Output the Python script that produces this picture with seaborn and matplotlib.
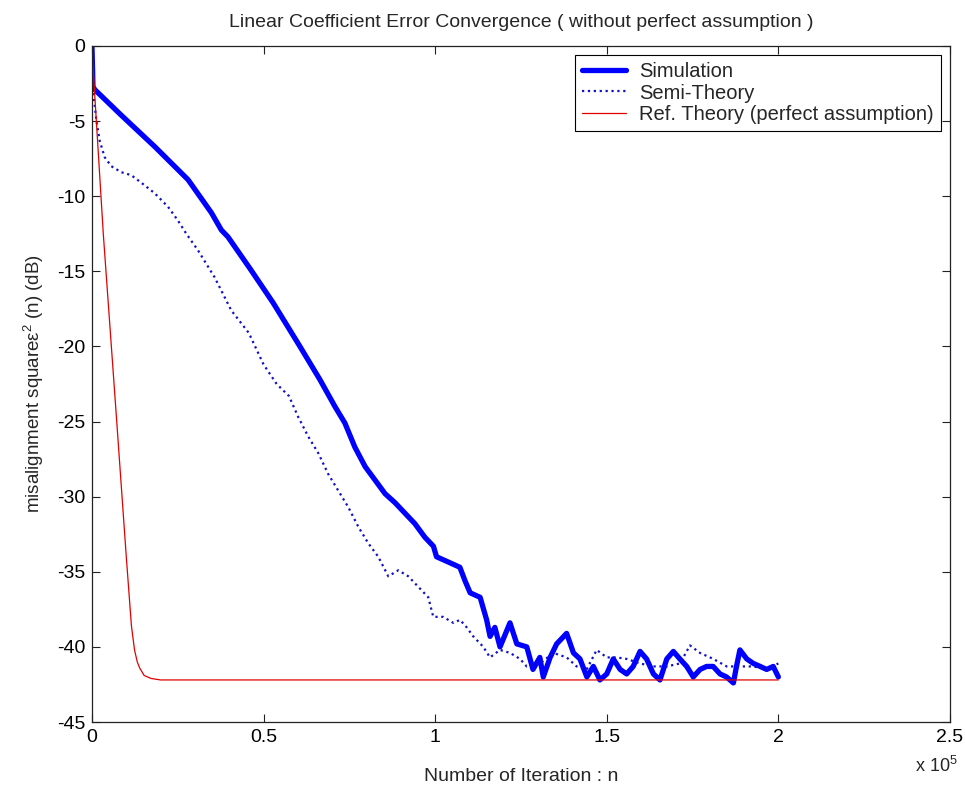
import numpy as np
import pandas as pd
import matplotlib
matplotlib.use("Agg")
import matplotlib.pyplot as plt
import seaborn as sns
from matplotlib.ticker import FuncFormatter, FixedLocator

# ---------------- data ----------------
sim_n = [0, 300, 800, 8500, 18300, 28000, 34800, 37700, 39600, 46000, 52800,
         60600, 66400, 70800, 73700, 76600, 79600, 82500, 85400, 88300, 91200,
         94100, 97000, 99500, 100400, 104300, 107200, 108700, 110200, 113100,
         115000, 116000, 117400, 118900, 121800, 123800, 126700, 128500, 130500,
         131500, 133500, 135400, 138300, 140300, 142200, 144200, 146100, 148000,
         150000, 151900, 153900, 155800, 157700, 159700, 161600, 163600, 165500,
         167500, 169400, 171300, 173300, 175200, 177200, 179100, 181000, 183000,
         184900, 186900, 187800, 188800, 190800, 192700, 194700, 196600, 198500,
         200000]
sim_db = [0, -2.7, -2.9, -4.6, -6.7, -8.9, -11.1, -12.25, -12.7, -14.8, -17.1,
          -20.0, -22.2, -24.0, -25.1, -26.7, -28.0, -28.9, -29.8, -30.4, -31.1,
          -31.8, -32.7, -33.3, -34.0, -34.4, -34.7, -35.6, -36.4, -36.7,
          -38.2, -39.3, -38.7, -40.0, -38.4, -39.8, -40.0, -41.5, -40.7,
          -42.0, -40.7, -39.8, -39.1, -40.4, -40.8, -42.0, -41.3, -42.2,
          -41.8, -40.8, -41.5, -41.8, -41.3, -40.3, -40.8, -41.8, -42.2,
          -40.8, -40.3, -40.8, -41.3, -42.0, -41.5, -41.3, -41.3, -41.8,
          -42.0, -42.4, -41.3, -40.2, -40.8, -41.1, -41.3, -41.5, -41.3,
          -42.0]

semi_n = [0, 300, 1250, 2240, 3700, 5620, 8540, 11450, 14370, 18270, 22150,
          25000, 27500, 30890, 35750, 40590, 45700, 50000, 53820, 57400, 60110,
          63030, 65940, 68860, 71770, 74690, 77600, 80510, 83430, 86340, 89260,
          92170, 95080, 98000, 99450, 102370, 105280, 107240, 109190, 111110,
          114030, 115980, 118890, 121810, 124720, 126670, 130550, 134420,
          138330, 141240, 144150, 147070, 149980, 152900, 155810, 159690,
          163560, 167470, 171340, 174250, 177170, 181040, 184950, 188830,
          192700, 196610, 200000]
semi_db = [0, -2.9, -4.9, -6.3, -7.4, -8.0, -8.4, -8.6, -9.1, -9.8, -10.7,
           -11.6, -12.5, -13.6, -15.4, -17.6, -19.1, -21.2, -22.5, -23.3, -24.7,
           -26.0, -27.1, -28.5, -29.6, -30.7, -32.0, -33.1, -34.0, -35.3, -34.9,
           -35.3, -36.0, -36.7, -38.0, -38.0, -38.4, -38.2, -38.7, -39.3,
           -40.0, -40.7, -40.2, -40.4, -40.8, -41.3, -41.1, -40.4,
           -40.7, -41.3, -41.5, -40.2, -40.7, -40.7, -40.8, -41.1,
           -41.3, -41.3, -41.1, -39.9, -40.4, -40.8, -41.3, -41.3,
           -41.3, -41.5, -41.1]

ref_n = [0, 200, 1250, 3300, 7000, 10000, 11500, 12400, 13200, 13900, 15200,
         17200, 20000, 200000]
ref_db = [0, -1.0, -4.9, -12.5, -24.3, -34.0, -38.6, -40.2, -41.0, -41.4,
          -41.9, -42.1, -42.2, -42.2]

labels = ["Simulation", "Semi-Theory", "Ref. Theory (perfect assumption)"]
x_ticks = [0, 50000, 100000, 150000, 200000, 250000]
y_ticks = [0, -5, -10, -15, -20, -25, -30, -35, -40, -45]

# ---------------- style ----------------
sns.set_style("ticks")
plt.rcParams["font.family"] = ["Liberation Sans", "DejaVu Sans"]
plt.rcParams["mathtext.fontset"] = "custom"
plt.rcParams["mathtext.rm"] = "Liberation Sans"
plt.rcParams["mathtext.it"] = "Liberation Sans"

fig = plt.figure(figsize=(9.65, 7.89), dpi=100)
ax = fig.add_axes([0.0953, 0.0849, 0.8891, 0.8568])

df_sim = pd.DataFrame({"n": sim_n, "db": sim_db})
df_semi = pd.DataFrame({"n": semi_n, "db": semi_db})
df_ref = pd.DataFrame({"n": ref_n, "db": ref_db})

sns.lineplot(data=df_sim, x="n", y="db", ax=ax, color="#0000ff", lw=3.8,
             label=labels[0], sort=False, estimator=None)
sns.lineplot(data=df_semi, x="n", y="db", ax=ax, color="#1010c8", lw=1.6,
             linestyle=":", label=labels[1], sort=False, estimator=None)
sns.lineplot(data=df_ref, x="n", y="db", ax=ax, color="#e00000", lw=0.9,
             label=labels[2], sort=False, estimator=None)

ax.set_xlim(0, 250000)
ax.set_ylim(-45, 0)
ax.xaxis.set_major_locator(FixedLocator(x_ticks))
ax.yaxis.set_major_locator(FixedLocator(y_ticks))
ax.xaxis.set_major_formatter(FuncFormatter(lambda v, p: f"{v/1e5:g}"))
ax.yaxis.set_major_formatter(FuncFormatter(lambda v, p: f"{v:g}"))
ax.tick_params(direction="in", length=6, width=0.8, top=True, right=True,
               labelsize=14, colors="#222222", labelcolor="black", pad=5)
for s in ax.spines.values():
    s.set_linewidth(0.9)
    s.set_color("#222222")

ax.set_title("Linear Coefficient Error Convergence ( without perfect assumption )",
             fontsize=14, pad=14)
ax.set_xlabel("Number of Iteration : n", fontsize=14, labelpad=16)
ax.set_ylabel("misalignment square$\\mathregular{ε^2}$ (n) (dB)", fontsize=13.5,
              labelpad=8)
fig.text(0.948, 0.016, "x 10$^{5}$", fontsize=13, ha="left", va="bottom")

leg = ax.legend(loc="upper right", fontsize=14.5, frameon=True, fancybox=False,
                edgecolor="black", framealpha=1, borderaxespad=0.45,
                handlelength=2.2, labelspacing=0.12, borderpad=0.35,
                handletextpad=0.65)
leg.get_frame().set_linewidth(0.8)

fig.savefig("out.png", dpi=100)
